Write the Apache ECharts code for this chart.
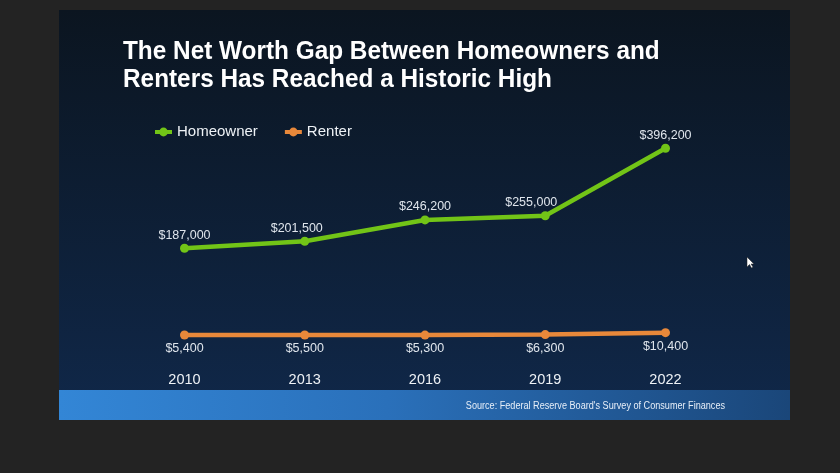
<!DOCTYPE html>
<html>
<head>
<meta charset="utf-8">
<script src="https://cdn.jsdelivr.net/npm/echarts@6/dist/echarts.min.js"></script>
<style>
  html, body { margin: 0; padding: 0; background: #232323; }
  #chart { width: 840px; height: 473px; }
</style>
</head>
<body>
<div id="chart"></div>
<script>
// ---- data ----
const years = ['2010', '2013', '2016', '2019', '2022'];
const homeowner = [187000, 201500, 246200, 255000, 396200];
const renter = [5400, 5500, 5300, 6300, 10400];
const seriesNames = ['Homeowner', 'Renter'];
const titleLines = ['The Net Worth Gap Between Homeowners and', 'Renters Has Reached a Historic High'];
const sourceText = "Source: Federal Reserve Board's Survey of Consumer Finances";

// ---- style ----
const green = '#72c417';
const orange = '#e8883a';
const labelColor = '#dfe5ec';
const homeLabelDx = [0, -8, 0, -14, 0];

const fmt = v => '$' + v.toLocaleString('en-US');

const chart = echarts.init(document.getElementById('chart'));
chart.setOption({
  backgroundColor: '#232323',
  animation: false,
  textStyle: { fontFamily: 'Liberation Sans, Arial, sans-serif' },
  graphic: [
    {
      type: 'rect', z: -10, silent: true,
      shape: { x: 59, y: 10, width: 731, height: 410 },
      style: {
        fill: new echarts.graphic.LinearGradient(0, 0, 0, 1, [
          { offset: 0, color: '#0b1520' },
          { offset: 1, color: '#10284a' }
        ])
      }
    },
    {
      type: 'rect', z: -9, silent: true,
      shape: { x: 59, y: 390, width: 731, height: 30 },
      style: {
        fill: new echarts.graphic.LinearGradient(0, 0, 1, 0, [
          { offset: 0, color: '#3386d6' },
          { offset: 0.45, color: '#2a70ba' },
          { offset: 1, color: '#1a4679' }
        ])
      }
    },
    {
      type: 'text', x: 123, y: 38, scaleX: 0.974, silent: true,
      style: {
        text: titleLines.join('\n'),
        fill: '#ffffff',
        font: 'bold 25px "Liberation Sans", Arial, sans-serif',
        lineHeight: 28,
        textVerticalAlign: 'top'
      }
    },
    {
      type: 'text', x: 725, y: 406, scaleX: 0.91, silent: true,
      style: {
        text: sourceText,
        fill: '#e6eef8',
        font: '10px "Liberation Sans", Arial, sans-serif',
        textAlign: 'right',
        textVerticalAlign: 'middle'
      }
    },
    {
      type: 'polygon', x: 747, y: 257, silent: true,
      shape: { points: [[0, 0], [0, 10], [2.5, 7.5], [4.5, 11], [6, 10], [4, 7], [7, 7]] },
      style: { fill: '#ffffff', stroke: '#222', lineWidth: 0.5 }
    }
  ],
  legend: {
    left: 153, top: 124.5, padding: 0,
    itemWidth: 17, itemHeight: 11, itemGap: 25,
    lineStyle: { width: 4 },
    textStyle: { color: '#eef2f6', fontSize: 15 },
    data: seriesNames
  },
  grid: { left: 184.5, right: 174.5, top: 146.4, bottom: 135.4, containLabel: false },
  xAxis: {
    type: 'category',
    data: years,
    boundaryGap: false,
    axisLine: { show: false },
    axisTick: { show: false },
    axisLabel: { color: '#eef2f6', fontSize: 14.5, margin: 35 }
  },
  yAxis: {
    type: 'value', min: 0, max: 400000,
    show: false,
    splitLine: { show: false }
  },
  series: [
    {
      name: seriesNames[0], type: 'line',
      data: homeowner.map((v, i) => ({ value: v, label: { offset: [homeLabelDx[i], 0] } })),
      color: green,
      lineStyle: { width: 4.5, color: green },
      symbol: 'circle', symbolSize: 9,
      itemStyle: { color: green },
      label: { show: true, position: 'top', distance: 2, color: labelColor, fontSize: 12.5, formatter: p => fmt(p.value) }
    },
    {
      name: seriesNames[1], type: 'line',
      data: renter,
      color: orange,
      lineStyle: { width: 4.5, color: orange },
      symbol: 'circle', symbolSize: 9,
      itemStyle: { color: orange },
      label: { show: true, position: 'bottom', distance: 2.5, color: labelColor, fontSize: 12.5, formatter: p => fmt(p.value) }
    }
  ]
});
</script>
</body>
</html>
